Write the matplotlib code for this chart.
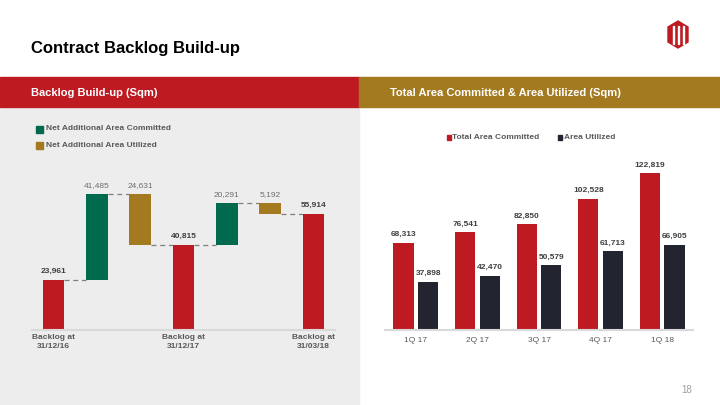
import matplotlib
matplotlib.use('Agg')
import matplotlib.pyplot as plt
from matplotlib.patches import Rectangle, Polygon
import numpy as np

plt.rcParams['font.family'] = ['Liberation Sans', 'DejaVu Sans']

# ---- data ----
wf_labels = ['Backlog at\n31/12/16', '', '', 'Backlog at\n31/12/17', '', '', 'Backlog at\n31/03/18']
wf_kinds = ['total', 'committed', 'utilized', 'total', 'committed', 'utilized', 'total']
wf_values = [23961, 41485, 24631, 40815, 20291, 5192, 55914]

quarters = ['1Q 17', '2Q 17', '3Q 17', '4Q 17', '1Q 18']
area_committed = [68313, 76541, 82850, 102528, 122819]
area_utilized = [37898, 42470, 50579, 61713, 66905]

# ---- colours ----
RED = '#BE1A22'
GREEN = '#006A4E'
GOLD = '#A37A20'
DARK = '#22242F'
PANEL = '#EDEDED'
LABEL_DARK = '#404040'
LABEL_GRAY = '#6E6E6E'

W, H = 720, 405
fig = plt.figure(figsize=(7.2, 4.05), dpi=100)
fig.patch.set_facecolor('white')


def fx(x):
    return x / W


def fy(y):
    return 1 - y / H


def frect(x0, y0, x1, y1, color, z=-5):
    fig.patches.append(Rectangle((fx(x0), fy(y1)), fx(x1 - x0), (y1 - y0) / H,
                                 transform=fig.transFigure, color=color, zorder=z))


# header bands and panels
frect(0, 106.5, 359, 405, PANEL)
frect(0, 77.5, 359, 106.5, RED)
frect(359, 77.5, 720, 106.5, GOLD)

fig.text(fx(31), fy(48), 'Contract Backlog Build-up', fontsize=12, fontweight='bold',
         color='black', va='center', ha='left')
fig.text(fx(31), fy(92.5), 'Backlog Build-up (Sqm)', fontsize=8, fontweight='bold',
         color='white', va='center', ha='left')
fig.text(fx(390), fy(92.5), 'Total Area Committed & Area Utilized (Sqm)', fontsize=8,
         fontweight='bold', color='white', va='center', ha='left')
fig.text(fx(687), fy(390), '18', fontsize=7, color='#A0A0A0', va='center', ha='center')

# simple logo
hexagon = [(668, 27), (678, 21), (688, 27), (688, 42), (678, 48), (668, 42)]
fig.patches.append(Polygon([(fx(a), fy(b)) for a, b in hexagon], closed=True,
                           transform=fig.transFigure, color=RED, zorder=1))
for xs in (672.5, 677.5, 682.5):
    fig.patches.append(Rectangle((fx(xs), fy(44)), fx(1.2), 18 / H,
                                 transform=fig.transFigure, color='white', zorder=2))

# ============================================================
# left: waterfall
# ============================================================
ax = fig.add_axes([fx(32), fy(330), fx(335 - 32), 180 / H])
ax.set_zorder(3)
ax.patch.set_alpha(0)
ax.set_xlim(-0.5, 6.5)
ax.set_ylim(0, 86750)

level = 0
bw = 0.5
levels = []
for i, (kind, v) in enumerate(zip(wf_kinds, wf_values)):
    if kind == 'total':
        bottom, top, color = 0, v, RED
        level = v
    elif kind == 'committed':
        bottom, top, color = level, level + v, GREEN
        level = level + v
    else:
        bottom, top, color = level - v, level, GOLD
        level = level - v
    levels.append(level)
    ax.bar(i, top - bottom, bottom=bottom, width=bw, color=color, zorder=2)
    if kind == 'total':
        ax.annotate(f'{v:,}', (i, top), xytext=(0, 6.5), textcoords='offset points',
                    ha='center', va='center', fontsize=6, fontweight='bold', color=LABEL_DARK)
    else:
        ax.annotate(f'{v:,}', (i, top), xytext=(0, 6.5), textcoords='offset points',
                    ha='center', va='center', fontsize=6, color=LABEL_GRAY)

# dashed connectors
for i in range(len(levels) - 1):
    ax.plot([i + bw / 2, i + 1 - bw / 2], [levels[i], levels[i]], ls=(0, (4, 3)),
            color='#7F7F7F', lw=0.9, zorder=1)

tick_pos = [i for i, lab in enumerate(wf_labels) if lab]
ax.set_xticks(tick_pos)
ax.set_xticklabels([wf_labels[i] for i in tick_pos], fontsize=6, fontweight='bold',
                   color='#595959', linespacing=1.3)
ax.tick_params(axis='x', length=0, pad=3)
ax.set_yticks([])
for s in ('top', 'right', 'left'):
    ax.spines[s].set_visible(False)
ax.spines['bottom'].set_color('#D9D9D9')
ax.spines['bottom'].set_linewidth(1.5)

# legend (left)
for yy, col, txt in [(129, GREEN, 'Net Additional Area Committed'),
                     (145.5, GOLD, 'Net Additional Area Utilized')]:
    fig.patches.append(Rectangle((fx(36), fy(yy + 3.5)), fx(7), 7 / H,
                                 transform=fig.transFigure, color=col, zorder=2))
    fig.text(fx(46), fy(yy), txt, fontsize=6, fontweight='bold', color='#595959',
             va='center', ha='left')

# ============================================================
# right: grouped bars
# ============================================================
ax2 = fig.add_axes([fx(385), fy(330), fx(693 - 385), 180 / H])
ax2.set_zorder(3)
ax2.patch.set_alpha(0)
ax2.set_xlim(-0.5, 4.5)
ax2.set_ylim(0, 141000)
x = np.arange(len(quarters))
w = 0.33
b1 = ax2.bar(x - 0.2, area_committed, width=w, color=RED, zorder=2)
b2 = ax2.bar(x + 0.2, area_utilized, width=w, color=DARK, zorder=2)
for bars, vals in [(b1, area_committed), (b2, area_utilized)]:
    for r, v in zip(bars, vals):
        ax2.annotate(f'{v:,}', (r.get_x() + r.get_width() / 2, v), xytext=(0, 6),
                     textcoords='offset points', ha='center', va='center',
                     fontsize=6, fontweight='bold', color=LABEL_DARK)
ax2.set_xticks(x)
ax2.set_xticklabels(quarters, fontsize=6, color='#595959')
ax2.tick_params(axis='x', length=0, pad=5)
ax2.set_yticks([])
for s in ('top', 'right', 'left'):
    ax2.spines[s].set_visible(False)
ax2.spines['bottom'].set_color('#D9D9D9')
ax2.spines['bottom'].set_linewidth(1.5)

# legend (right)
for xx, col, txt in [(446.5, RED, 'Total Area Committed'), (557.5, DARK, 'Area Utilized')]:
    fig.patches.append(Rectangle((fx(xx), fy(139.5)), fx(4.5), 4.5 / H,
                                 transform=fig.transFigure, color=col, zorder=2))
    fig.text(fx(xx + 6), fy(137.3), txt, fontsize=6, fontweight='bold', color='#595959',
             va='center', ha='left')

fig.savefig('out.png', dpi=100)
